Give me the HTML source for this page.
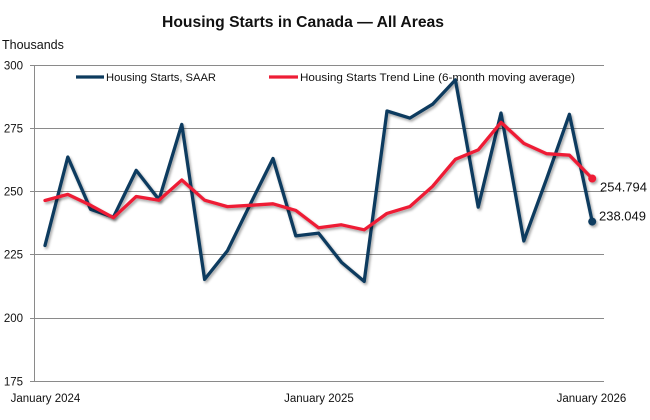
<!DOCTYPE html>
<html>
<head>
<meta charset="utf-8">
<style>
  html,body{margin:0;padding:0;background:#fff;}
  svg{display:block;}
  text{font-family:"Liberation Sans", Arial, sans-serif; fill:#111;}
</style>
</head>
<body>
<svg width="650" height="420" viewBox="0 0 650 420" xmlns="http://www.w3.org/2000/svg">
  <defs>
    <filter id="sh" x="-10%" y="-10%" width="120%" height="130%">
      <feDropShadow dx="1.5" dy="2" stdDeviation="1.2" flood-color="#000" flood-opacity="0.35"/>
    </filter>
  </defs>
  <rect width="650" height="420" fill="#fff"/>

  <!-- Title -->
  <text x="162" y="27" font-size="15.5" font-weight="bold" textLength="282" lengthAdjust="spacingAndGlyphs">Housing Starts in Canada — All Areas</text>
  <text x="2" y="49" font-size="12.5">Thousands</text>

  <!-- gridlines -->
  <g stroke="#8a8a8a" stroke-width="1" shape-rendering="crispEdges">
    <line x1="30" y1="65.5" x2="604" y2="65.5"/>
    <line x1="30" y1="128.5" x2="604" y2="128.5"/>
    <line x1="30" y1="191.5" x2="604" y2="191.5"/>
    <line x1="30" y1="254.5" x2="604" y2="254.5"/>
    <line x1="30" y1="318.5" x2="604" y2="318.5"/>
    <line x1="30" y1="381.5" x2="604" y2="381.5"/>
    <line x1="34.5" y1="65" x2="34.5" y2="381.5"/>
  </g>

  <!-- Y labels -->
  <g font-size="11.5" text-anchor="end">
    <text x="23" y="69.5">300</text>
    <text x="23" y="132.5">275</text>
    <text x="23" y="195.5">250</text>
    <text x="23" y="258.5">225</text>
    <text x="23" y="322">200</text>
    <text x="23" y="385.5">175</text>
  </g>

  <!-- X labels -->
  <g font-size="11.5" text-anchor="middle">
    <text x="45.5" y="402">January 2024</text>
    <text x="319" y="402">January 2025</text>
    <text x="591.5" y="402">January 2026</text>
  </g>

  <!-- Legend -->
  <line x1="76" y1="77" x2="104" y2="77" stroke="#0d3b5e" stroke-width="3.3"/>
  <text x="106" y="81" font-size="11" textLength="110" lengthAdjust="spacingAndGlyphs">Housing Starts, SAAR</text>
  <line x1="269" y1="77" x2="298" y2="77" stroke="#ee1d36" stroke-width="3.3"/>
  <text x="300" y="81" font-size="11" textLength="275" lengthAdjust="spacingAndGlyphs">Housing Starts Trend Line (6-month moving average)</text>

  <!-- Blue series -->
  <g filter="url(#sh)">
    <polyline fill="none" stroke="#0d3b5e" stroke-width="3.3" stroke-linejoin="round" stroke-linecap="round"
      points="45,245.5 67.8,157 90.6,209.3 113.4,217.2 136.2,170.4 159,199.7 181.8,124.4 204.6,279.4 227.4,250.8 250.2,204.3 273,158.5 295.8,235.9 318.6,233.1 341.4,262.2 364.2,281.4 387,111 409.8,118.1 432.6,104.2 455.4,79.9 478.2,207.1 501,113 523.8,240.9 546.6,178.8 569.4,114.3 592.2,221.6"/>
    <circle cx="592.2" cy="221.6" r="4" fill="#0d3b5e"/>
  </g>

  <!-- Red series -->
  <g filter="url(#sh)">
    <polyline fill="none" stroke="#ee1d36" stroke-width="3.3" stroke-linejoin="round" stroke-linecap="round"
      points="45,200.5 67.8,194.4 90.6,205.3 113.4,217.7 136.2,196.5 159,200.2 181.8,180 204.6,200.2 227.4,206.6 250.2,205.3 273,203.8 295.8,210.4 318.6,227.8 341.4,224.8 364.2,229.8 387,213.4 409.8,206.6 432.6,186.3 455.4,159.3 478.2,149.9 501,122.4 523.8,143.4 546.6,153.7 569.4,155.2 592.2,178.5"/>
    <circle cx="592.2" cy="178.5" r="4" fill="#ee1d36"/>
  </g>

  <!-- End labels -->
  <text x="600" y="191.5" font-size="13">254.794</text>
  <text x="599" y="220.5" font-size="13">238.049</text>
</svg>
</body>
</html>
